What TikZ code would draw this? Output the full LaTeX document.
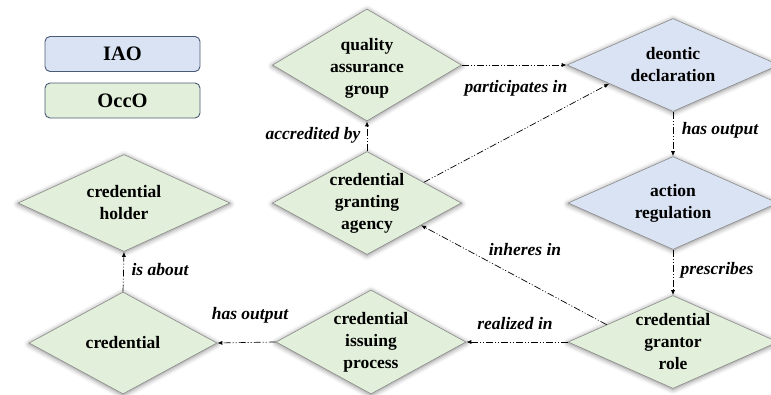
\documentclass[tikz,border=0pt]{standalone}
\usepackage{fontspec}
\setmainfont{Liberation Serif}
\usetikzlibrary{calc, shapes.geometric, arrows.meta, shadows.blur}

\definecolor{iaofill}{HTML}{DAE3F3}
\definecolor{occofill}{HTML}{E2EFDA}
\definecolor{legendline}{HTML}{4A5A75}
\definecolor{diaedge}{HTML}{8A8A8A}

\tikzset{
  dtext/.style={font=\fontsize{17.5}{22}\selectfont\bfseries, align=center, inner sep=0pt},
  dia/.style={diamond, draw=diaedge, line width=0.6pt, inner sep=0pt,
    blur shadow={shadow xshift=0pt, shadow yshift=-1pt,
      shadow blur radius=5pt, shadow opacity=50}},
  occo/.style={dia, fill=occofill},
  iao/.style={dia, fill=iaofill},
  dlabel/.style={label={[dtext]center:#1}},
  legendbox/.style={draw=legendline, line width=0.9pt, rounded corners=5pt,
    minimum width=155pt, minimum height=35pt,
    font=\fontsize{20.5}{24}\selectfont\bfseries},
  rel/.style={draw=black, line width=0.7pt,
    dash pattern=on 7pt off 2pt on 1pt off 2pt on 1pt off 2pt,
    -{Latex[length=5pt,width=4pt]}},
  lab/.style={font=\fontsize{17.5}{21}\selectfont\bfseries\itshape, inner sep=0pt}
}

\begin{document}
\begin{tikzpicture}[x=1pt, y=-1pt]
  \useasboundingbox (0,0) rectangle (771,394);

  % legend
  \node[legendbox, fill=iaofill]  (lgiao)  at (122.5,54)  {IAO};
  \node[legendbox, fill=occofill] (lgocco) at (122.5,100.5) {OccO};

  % classes
  \node[occo, minimum width=189pt, minimum height=112pt,
        label={[dtext, yshift=-3pt]center:{quality\\assurance\\group}}] (qa) at (367,65) {};
  \node[iao, minimum width=212pt, minimum height=93pt,
        dlabel={deontic\\declaration}] (deontic) at (673,65) {};
  \node[iao, minimum width=210pt, minimum height=93pt,
        dlabel={action\\regulation}] (action) at (673,203) {};
  \node[occo, minimum width=210pt, minimum height=93pt,
        dlabel={credential\\grantor\\role}] (grantor) at (673,342) {};
  \node[occo, minimum width=189pt, minimum height=103pt,
        dlabel={credential\\granting\\agency}] (agency) at (367,203) {};
  \node[occo, minimum width=190pt, minimum height=104pt,
        dlabel={credential\\issuing\\process}] (issuing) at (371,342) {};
  \node[occo, minimum width=212pt, minimum height=97pt,
        dlabel={credential\\holder}] (holder) at (124,203) {};
  \node[occo, minimum width=188pt, minimum height=102pt,
        dlabel={credential}] (credential) at (123,343) {};

  % relations
  \draw[rel] (qa.east) -- (deontic.west);
  \draw[rel] ($(agency.north)!0.6!(agency.east)$) -- ($(deontic.west)!0.4!(deontic.south)$);
  \draw[rel] (agency.north) -- (qa.south);
  \draw[rel] (deontic.south) -- (action.north);
  \draw[rel] (action.south) -- (grantor.north);
  \draw[rel] ($(grantor.west)!0.37!(grantor.north)$) -- ($(agency.east)!0.43!(agency.south)$);
  \draw[rel] (grantor.west) -- (issuing.east);
  \draw[rel] (issuing.west) -- (credential.east);
  \draw[rel] (credential.north) -- (holder.south);

  % relation labels
  \node[lab] (lpart)  at (516,88)  {participates in};
  \node[lab] (lacc)   at (313,135) {accredited by};
  \node[lab] (lout1)  at (720,130) {has output};
  \node[lab] (lpres)  at (717,270) {prescribes};
  \node[lab] (linh)   at (525,250) {inheres in};
  \node[lab] (lreal)  at (515,324) {realized in};
  \node[lab] (lout2)  at (250,315) {has output};
  \node[lab] (labout) at (160,270) {is about};
\end{tikzpicture}
\end{document}
